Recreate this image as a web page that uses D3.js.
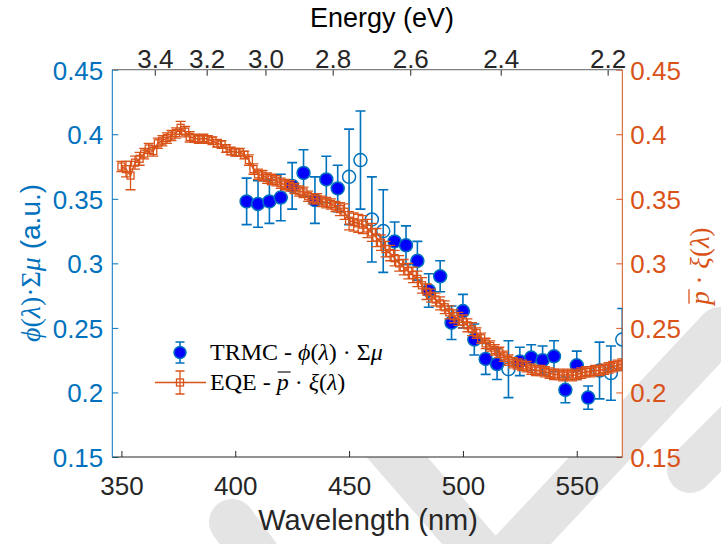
<!DOCTYPE html>
<html>
<head>
<meta charset="utf-8">
<script src="https://cdn.jsdelivr.net/npm/d3@7"></script>
<style>
body { margin: 0; background: #fff; }
</style>
</head>
<body>
<svg id="chart" width="721" height="544"></svg>
<script>
// TRMC points (left axis), open = 1 means hollow marker
var trmcWl = [405, 410, 415, 420, 425, 430, 435, 440, 445, 450, 455, 460, 465, 470, 475, 480, 485,
  490, 495, 500, 505, 510, 515, 520, 525, 530, 535, 540, 545, 550, 555, 560, 565, 570];
var trmcVal = [0.348, 0.346, 0.348, 0.351, 0.360, 0.370, 0.349, 0.365, 0.358, 0.367, 0.380, 0.334, 0.325,
  0.317, 0.314, 0.302, 0.279, 0.290, 0.254, 0.263, 0.241, 0.226, 0.222, 0.218, 0.224, 0.227, 0.225,
  0.228, 0.202, 0.221, 0.196, 0.217, 0.215, 0.241];
var trmcErr = [0.018, 0.018, 0.017, 0.018, 0.018, 0.018, 0.018, 0.018, 0.018, 0.037, 0.038, 0.033, 0.032,
  0.015, 0.015, 0.015, 0.013, 0.012, 0.013, 0.013, 0.012, 0.012, 0.012, 0.022, 0.011, 0.010, 0.011,
  0.012, 0.010, 0.011, 0.009, 0.022, 0.021, 0.024];
var trmcOpen = [0, 0, 0, 0, 0, 0, 0, 0, 0, 1, 1, 1, 1, 0, 0, 0, 0, 0, 0, 0, 0, 0, 0, 1, 0, 0, 0, 0, 0, 0, 0, 1, 1, 1];

// EQE series (right axis)
var eqeWl = [350, 352, 354, 356, 358, 360, 362, 364, 366, 368, 370, 372, 374, 376, 378, 380, 382, 384, 386, 388,
  390, 392, 394, 396, 398, 400, 402, 404, 406, 408, 410, 412, 414, 416, 418, 420, 422, 424, 426, 428,
  430, 432, 434, 436, 438, 440, 442, 444, 446, 448, 450, 452, 454, 456, 458, 460, 462, 464, 466, 468,
  470, 472, 474, 476, 478, 480, 482, 484, 486, 488, 490, 492, 494, 496, 498, 500, 502, 504, 506, 508,
  510, 512, 514, 516, 518, 520, 522, 524, 526, 528, 530, 532, 534, 536, 538, 540, 542, 544, 546, 548,
  550, 552, 554, 556, 558, 560, 562, 564, 566, 568, 570];
var eqeVal = [0.375, 0.373, 0.368, 0.378, 0.381, 0.385, 0.389, 0.387, 0.393, 0.395, 0.397, 0.399, 0.401, 0.405,
  0.402, 0.398, 0.397, 0.396, 0.397, 0.396, 0.395, 0.393, 0.392, 0.389, 0.387, 0.386, 0.386, 0.384, 0.380,
  0.373, 0.369, 0.368, 0.366, 0.365, 0.364, 0.362, 0.361, 0.360, 0.358, 0.356, 0.355, 0.352, 0.350, 0.350,
  0.348, 0.347, 0.346, 0.344, 0.342, 0.340, 0.333, 0.332, 0.331, 0.330, 0.327, 0.324, 0.320, 0.316, 0.311,
  0.308, 0.304, 0.300, 0.297, 0.294, 0.291, 0.288, 0.283, 0.278, 0.275, 0.272, 0.269, 0.266, 0.262, 0.259,
  0.257, 0.255, 0.252, 0.249, 0.246, 0.242, 0.238, 0.236, 0.233, 0.231, 0.228, 0.225, 0.223, 0.222, 0.221,
  0.220, 0.218, 0.217, 0.217, 0.216, 0.215, 0.214, 0.214, 0.213, 0.214, 0.213, 0.214, 0.215, 0.216, 0.216,
  0.217, 0.217, 0.218, 0.219, 0.220, 0.221, 0.222];
var eqeErr = [0.004, 0.006, 0.011, 0.005, 0.005, 0.004, 0.004, 0.004, 0.004, 0.004, 0.004, 0.004, 0.004, 0.005,
  0.004, 0.004, 0.003, 0.003, 0.003, 0.003, 0.003, 0.003, 0.003, 0.003, 0.003, 0.003, 0.003, 0.003, 0.004,
  0.004, 0.004, 0.004, 0.004, 0.004, 0.004, 0.004, 0.004, 0.004, 0.004, 0.004, 0.004, 0.004, 0.004, 0.004,
  0.004, 0.004, 0.004, 0.004, 0.005, 0.006, 0.007, 0.007, 0.007, 0.007, 0.007, 0.007, 0.007, 0.006, 0.006,
  0.006, 0.006, 0.006, 0.006, 0.006, 0.006, 0.006, 0.006, 0.006, 0.005, 0.005, 0.005, 0.005, 0.005, 0.005,
  0.005, 0.005, 0.005, 0.005, 0.004, 0.004, 0.004, 0.004, 0.004, 0.004, 0.004, 0.004, 0.004, 0.004, 0.004,
  0.004, 0.004, 0.004, 0.004, 0.004, 0.004, 0.004, 0.004, 0.004, 0.004, 0.004, 0.004, 0.004, 0.004, 0.004,
  0.004, 0.004, 0.004, 0.004, 0.004, 0.004, 0.004];

var wlTicks = [350, 400, 450, 500, 550];
var energyTicks = [3.4, 3.2, 3.0, 2.8, 2.6, 2.4, 2.2];
var yTicks = [0.15, 0.2, 0.25, 0.3, 0.35, 0.4, 0.45];

var blue = '#0072BD', orange = '#D95319', dark = '#262626';
var sans = '"Liberation Sans", Arial, Helvetica, sans-serif';
var serif = '"Liberation Serif", "DejaVu Serif", serif';

var plot = {left: 112.3, right: 622.3, top: 69.7, bottom: 457};

var svg = d3.select('#chart');

// watermark bands behind the figure
var wm = svg.append('g').attr('fill', 'none').attr('stroke', '#e4e4e4')
  .attr('stroke-width', 46).attr('stroke-linecap', 'round');
wm.append('path').attr('d', 'M330,380 L495,570');
wm.append('path').attr('d', 'M495,570 L720,330');
wm.append('path').attr('d', 'M232,522 L290,600');
wm.append('path').attr('d', 'M690,470 L760,400');

// white axes background over the watermark
svg.append('rect').attr('x', plot.left).attr('y', plot.top)
  .attr('width', plot.right - plot.left).attr('height', plot.bottom - plot.top).attr('fill', '#fff');

var x = d3.scaleLinear().domain([346, 570]).range([plot.left, plot.right]);
var y = d3.scaleLinear().domain([0.15, 0.45]).range([plot.bottom, plot.top]);

function styleAxis(g, color, size) {
  g.select('.domain').remove();
  g.selectAll('line').attr('stroke', color).attr('stroke-width', 1);
  g.selectAll('text').attr('fill', color).attr('font-family', sans).attr('font-size', size);
}

// bottom axis
var gb = svg.append('g').attr('transform', 'translate(0,' + plot.bottom + ')')
  .call(d3.axisBottom(x).tickValues(wlTicks).tickSizeInner(-6).tickSizeOuter(0).tickPadding(10));
styleAxis(gb, dark, 26);
gb.selectAll('text').attr('dy', null).attr('y', 38);

// top axis (energy)
var gt = svg.append('g').attr('transform', 'translate(0,' + plot.top + ')')
  .call(d3.axisTop(x).tickValues(energyTicks.map(function (e) { return 1239.84 / e; }))
    .tickFormat(function (d, i) { return energyTicks[i].toFixed(1); })
    .tickSizeInner(-6).tickSizeOuter(0).tickPadding(2));
styleAxis(gt, dark, 26);
gt.selectAll('text').attr('y', -2).attr('dy', null);

// left axis
var gl = svg.append('g').attr('transform', 'translate(' + plot.left + ',0)')
  .call(d3.axisLeft(y).tickValues(yTicks).tickFormat(d3.format('')).tickSizeInner(-6).tickSizeOuter(0).tickPadding(9));
styleAxis(gl, blue, 26);
gl.selectAll('text').attr('dy', '0.36em');

// right axis
var gr = svg.append('g').attr('transform', 'translate(' + plot.right + ',0)')
  .call(d3.axisRight(y).tickValues(yTicks).tickFormat(d3.format('')).tickSizeInner(-6).tickSizeOuter(0).tickPadding(8));
styleAxis(gr, orange, 26);
gr.selectAll('text').attr('dy', '0.36em');

// axis lines
svg.append('line').attr('x1', plot.left).attr('x2', plot.right).attr('y1', plot.bottom).attr('y2', plot.bottom)
  .attr('stroke', dark).attr('stroke-width', 1);
svg.append('line').attr('x1', plot.left).attr('x2', plot.right).attr('y1', plot.top).attr('y2', plot.top)
  .attr('stroke', '#808080').attr('stroke-width', 1.3);
svg.append('line').attr('x1', plot.left).attr('x2', plot.left).attr('y1', plot.top).attr('y2', plot.bottom)
  .attr('stroke', blue).attr('stroke-width', 1);
svg.append('line').attr('x1', plot.right).attr('x2', plot.right).attr('y1', plot.top).attr('y2', plot.bottom)
  .attr('stroke', orange).attr('stroke-width', 1);

// clip for data
svg.append('clipPath').attr('id', 'clip').append('rect')
  .attr('x', plot.left).attr('y', plot.top - 20).attr('width', plot.right - plot.left).attr('height', plot.bottom - plot.top + 20);

var data = svg.append('g').attr('clip-path', 'url(#clip)');

// TRMC error bars and markers
var trmc = trmcWl.map(function (w, i) { return {w: w, v: trmcVal[i], e: trmcErr[i], open: trmcOpen[i]}; });
var tg = data.append('g');
tg.selectAll('path.err').data(trmc).enter().append('path')
  .attr('d', function (d) {
    var cx = x(d.w), y0 = y(d.v - d.e), y1 = y(d.v + d.e), c = 5;
    return 'M' + cx + ',' + y0 + 'V' + y1 + 'M' + (cx - c) + ',' + y0 + 'H' + (cx + c) + 'M' + (cx - c) + ',' + y1 + 'H' + (cx + c);
  })
  .attr('fill', 'none').attr('stroke', blue).attr('stroke-width', 1.6);
tg.selectAll('circle').data(trmc).enter().append('circle')
  .attr('cx', function (d) { return x(d.w); })
  .attr('cy', function (d) { return y(d.v); })
  .attr('r', 6.5)
  .attr('fill', function (d) { return d.open ? 'none' : '#0000FF'; })
  .attr('stroke', blue).attr('stroke-width', 1.5);

// EQE line, error bars and square markers
var eqe = eqeWl.map(function (w, i) { return {w: w, v: eqeVal[i], e: eqeErr[i]}; });
var eg = data.append('g');
eg.append('path').datum(eqe)
  .attr('d', d3.line().x(function (d) { return x(d.w); }).y(function (d) { return y(d.v); }))
  .attr('fill', 'none').attr('stroke', orange).attr('stroke-width', 1.5);
eg.selectAll('path.err').data(eqe).enter().append('path')
  .attr('d', function (d) {
    var cx = x(d.w), y0 = y(d.v - d.e), y1 = y(d.v + d.e), c = 5;
    return 'M' + cx + ',' + y0 + 'V' + y1 + 'M' + (cx - c) + ',' + y0 + 'H' + (cx + c) + 'M' + (cx - c) + ',' + y1 + 'H' + (cx + c);
  })
  .attr('fill', 'none').attr('stroke', orange).attr('stroke-width', 1.3);
eg.selectAll('rect').data(eqe).enter().append('rect')
  .attr('x', function (d) { return x(d.w) - 3.5; })
  .attr('y', function (d) { return y(d.v) - 3.5; })
  .attr('width', 7).attr('height', 7)
  .attr('fill', 'none').attr('stroke', orange).attr('stroke-width', 1.3);

// axis titles
svg.append('text').attr('x', 368).attr('y', 530).attr('text-anchor', 'middle')
  .attr('font-family', sans).attr('font-size', 29).attr('fill', dark).text('Wavelength (nm)');
svg.append('text').attr('x', 382).attr('y', 27).attr('text-anchor', 'middle')
  .attr('font-family', sans).attr('font-size', 27).attr('fill', '#000').text('Energy (eV)');

var yl = svg.append('text').attr('transform', 'translate(40,263) rotate(-90)').attr('text-anchor', 'middle')
  .attr('fill', blue).attr('font-size', 28);
yl.append('tspan').attr('font-family', serif).attr('font-style', 'italic').text('\u03D5');
yl.append('tspan').attr('font-family', serif).text('(');
yl.append('tspan').attr('font-family', serif).attr('font-style', 'italic').text('\u03BB');
yl.append('tspan').attr('font-family', serif).text(')\u00B7\u03A3');
yl.append('tspan').attr('font-family', serif).attr('font-style', 'italic').text('\u03BC');
yl.append('tspan').attr('font-family', sans).text(' (a.u.)');

var yr = svg.append('text').attr('transform', 'translate(709,266) rotate(-90)').attr('text-anchor', 'middle')
  .attr('fill', orange).attr('font-size', 27).attr('font-family', serif);
yr.append('tspan').attr('font-style', 'italic').text('p');
yr.append('tspan').text(' \u00B7 ');
yr.append('tspan').attr('font-style', 'italic').text('\u03BE');
yr.append('tspan').text('(');
yr.append('tspan').attr('font-style', 'italic').text('\u03BB');
yr.append('tspan').text(')');
// overline on p (right label)
var rb = yr.node().getStartPositionOfChar(0), rl = yr.node().getExtentOfChar(0);
svg.append('line').attr('transform', 'translate(709,266) rotate(-90)')
  .attr('x1', rb.x + 1).attr('x2', rb.x + rl.width + 2).attr('y1', -20).attr('y2', -20)
  .attr('stroke', orange).attr('stroke-width', 1.3);

// legend
var lg = svg.append('g');
lg.append('path').attr('d', 'M180,342V363M175.5,342H184.5M175.5,363H184.5')
  .attr('fill', 'none').attr('stroke', blue).attr('stroke-width', 1.6);
lg.append('circle').attr('cx', 180).attr('cy', 352.5).attr('r', 6).attr('fill', '#0000FF')
  .attr('stroke', blue).attr('stroke-width', 1.5);
lg.append('line').attr('x1', 155).attr('x2', 206).attr('y1', 382.5).attr('y2', 382.5)
  .attr('stroke', orange).attr('stroke-width', 1.5);
lg.append('path').attr('d', 'M180,371V394M175.5,371H184.5M175.5,394H184.5')
  .attr('fill', 'none').attr('stroke', orange).attr('stroke-width', 1.3);
lg.append('rect').attr('x', 176.5).attr('y', 379).attr('width', 7).attr('height', 7)
  .attr('fill', 'none').attr('stroke', orange).attr('stroke-width', 1.3);

var t1 = lg.append('text').attr('x', 210).attr('y', 360).attr('font-family', serif).attr('font-size', 24).attr('fill', '#000');
t1.append('tspan').text('TRMC - ');
t1.append('tspan').attr('font-style', 'italic').text('\u03D5');
t1.append('tspan').text('(');
t1.append('tspan').attr('font-style', 'italic').text('\u03BB');
t1.append('tspan').text(') \u00B7 \u03A3');
t1.append('tspan').attr('font-style', 'italic').text('\u03BC');

var t2 = lg.append('text').attr('x', 210).attr('y', 390).attr('font-family', serif).attr('font-size', 24).attr('fill', '#000');
t2.append('tspan').text('EQE - ');
t2.append('tspan').attr('font-style', 'italic').text('p');
t2.append('tspan').text(' \u00B7 ');
t2.append('tspan').attr('font-style', 'italic').text('\u03BE');
t2.append('tspan').text('(');
t2.append('tspan').attr('font-style', 'italic').text('\u03BB');
t2.append('tspan').text(')');
// overline on p (legend)
var pIdx = 'EQE - '.length;
var pb = t2.node().getExtentOfChar(pIdx);
lg.append('line').attr('x1', pb.x + 1).attr('x2', pb.x + pb.width + 2).attr('y1', 372).attr('y2', 372)
  .attr('stroke', '#000').attr('stroke-width', 1.1);
</script>
</body>
</html>
